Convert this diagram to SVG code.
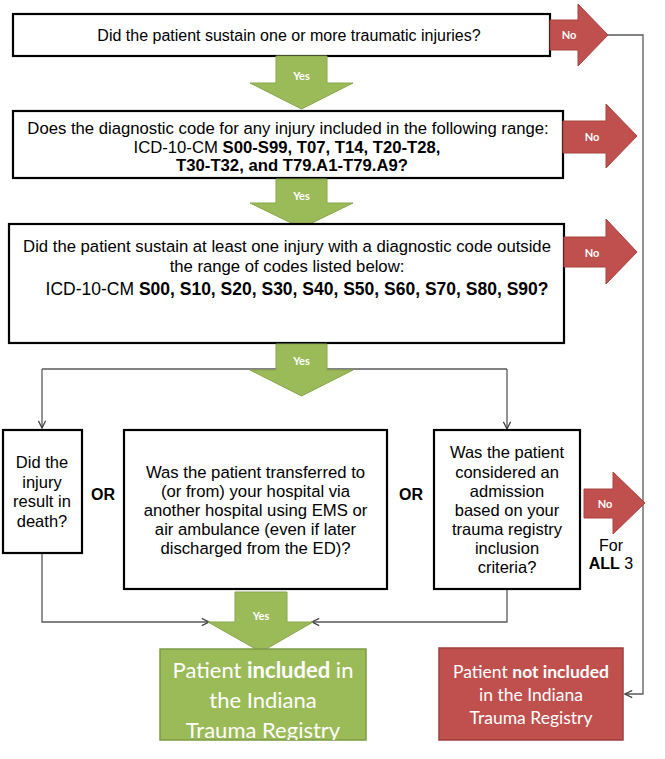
<svg xmlns="http://www.w3.org/2000/svg" width="665" height="759" viewBox="0 0 665 759">
<style>
.box{fill:#fff;stroke:#000;stroke-width:2.2}
.t{font-family:"Liberation Sans",Arial,sans-serif;fill:#000;text-anchor:middle}
.b{font-weight:bold}
.ga{fill:#9BBB59;stroke:#88A64C;stroke-width:1}
.ra{fill:#C0504D;stroke:#A8423F;stroke-width:1}
.lbl{font-family:Lato,"Open Sans",sans-serif;fill:#fff;font-size:11px;text-anchor:middle;font-weight:bold}
.con{fill:none;stroke:#595959;stroke-width:1.3}
.res{font-family:Lato,"Open Sans",sans-serif;fill:#fff;text-anchor:middle}
</style>
<defs>
<marker id="ah" viewBox="0 0 10 10" refX="9" refY="5" markerWidth="9" markerHeight="9" markerUnits="userSpaceOnUse" orient="auto">
<path d="M1,1 L9,5 L1,9" fill="none" stroke="#404040" stroke-width="1.4"/>
</marker>
<clipPath id="gclip"><rect x="160" y="649" width="206" height="91"/></clipPath>
</defs>

<g id="connectors">
<path class="con" d="M608,35 H643 V694 H625" marker-end="url(#ah)"/>
<path class="con" d="M42,369 H507"/>
<path class="con" d="M42,369 V428" marker-end="url(#ah)"/>
<path class="con" d="M507,369 V429" marker-end="url(#ah)"/>
<path class="con" d="M42,553 V622 H209" marker-end="url(#ah)"/>
<path class="con" d="M507,589 V622 H312" marker-end="url(#ah)"/>
</g>

<g id="q1">
<rect class="box" x="13" y="14" width="537" height="42"/>
<text class="t" x="289" y="41" font-size="16">Did the patient sustain one or more traumatic injuries?</text>
</g>

<g id="no1">
<polygon class="ra" points="550,20 578,20 578,4 608,35 578,66 578,50 550,50"/>
<text class="lbl" x="569" y="39">No</text>
</g>

<g id="yes1">
<polygon class="ga" points="276,56 327,56 327,83 353,83 301.5,109 250,83 276,83"/>
<text class="lbl" x="301.5" y="80">Yes</text>
</g>

<g id="q2">
<rect class="box" x="13" y="111" width="550" height="67"/>
<text class="t" x="288" y="134" font-size="16.7">Does the diagnostic code for any injury included in the following range:</text>
<text class="t" x="287" y="153" font-size="16.7">ICD-10-CM <tspan class="b">S00-S99, T07, T14, T20-T28,</tspan></text>
<text class="t b" x="292" y="171" font-size="16.7">T30-T32, and T79.A1-T79.A9?</text>
</g>

<g id="no2">
<polygon class="ra" points="563,121 606,121 606,104 637,136 606,168 606,153 563,153"/>
<text class="lbl" x="592" y="141">No</text>
</g>

<g id="yes2">
<polygon class="ga" points="276,179 327,179 327,203 353,203 301.5,228 250,203 276,203"/>
<text class="lbl" x="301.5" y="200">Yes</text>
</g>

<g id="q3">
<rect class="box" x="9" y="224" width="555" height="119"/>
<text class="t" x="287" y="252" font-size="16.7">Did the patient sustain at least one injury with a diagnostic code outside</text>
<text class="t" x="287" y="272" font-size="16.7">the range of codes listed below:</text>
<text class="t" x="297" y="295" font-size="17.5">ICD-10-CM <tspan class="b">S00, S10, S20, S30, S40, S50, S60, S70, S80, S90?</tspan></text>
</g>

<g id="no3">
<polygon class="ra" points="564,237 606,237 606,219 637,252 606,284 606,267 564,267"/>
<text class="lbl" x="592" y="257">No</text>
</g>

<g id="yes3">
<polygon class="ga" points="276,344 327,344 327,370 353,370 301.5,396 250,370 276,370"/>
<text class="lbl" x="301.5" y="365">Yes</text>
</g>

<g id="death">
<rect class="box" x="3" y="430" width="79" height="123"/>
<text class="t" font-size="16.5"><tspan x="42" y="468">Did the</tspan><tspan x="42" y="488">injury</tspan><tspan x="42" y="507">result in</tspan><tspan x="42" y="527">death?</tspan></text>
</g>

<text class="t b" x="103" y="500" font-size="16">OR</text>

<g id="transfer">
<rect class="box" x="124" y="430" width="263" height="159"/>
<text class="t" font-size="16.7"><tspan x="255.5" y="478">Was the patient transferred to</tspan><tspan x="255.5" y="497">(or from) your hospital via</tspan><tspan x="255.5" y="516">another hospital using EMS or</tspan><tspan x="255.5" y="535">air ambulance (even if later</tspan><tspan x="255.5" y="554">discharged from the ED)?</tspan></text>
</g>

<text class="t b" x="411" y="500" font-size="16">OR</text>

<g id="admission">
<rect class="box" x="434" y="430" width="146" height="159"/>
<text class="t" font-size="16.5"><tspan x="507" y="458">Was the patient</tspan><tspan x="507" y="478">considered an</tspan><tspan x="507" y="497">admission</tspan><tspan x="507" y="516">based on your</tspan><tspan x="507" y="535">trauma registry</tspan><tspan x="507" y="554">inclusion</tspan><tspan x="507" y="573">criteria?</tspan></text>
</g>

<g id="no4">
<polygon class="ra" points="584,489 613,489 613,472 645,503 613,534 613,518 584,518"/>
<text class="lbl" x="605" y="508">No</text>
<text class="t" x="611" y="551" font-size="16">For</text>
<text class="t" x="611" y="569" font-size="16"><tspan class="b">ALL</tspan> 3</text>
</g>

<g id="yes4">
<polygon class="ga" points="235,592 287,592 287,622 313,622 261,652 208,622 235,622"/>
<text class="lbl" x="261" y="620">Yes</text>
</g>

<g id="included">
<rect x="160" y="649" width="206" height="91" fill="#9BBB59" stroke="#7E9B45" stroke-width="1.5"/>
<g clip-path="url(#gclip)">
<text class="res" font-size="22"><tspan x="263" y="678">Patient <tspan font-weight="bold">included</tspan> in</tspan><tspan x="263" y="708">the Indiana</tspan><tspan x="263" y="738">Trauma Registry</tspan></text>
</g>
</g>

<g id="notincluded">
<rect x="439" y="648" width="184" height="92" fill="#C0504D" stroke="#9E3E3B" stroke-width="1.5"/>
<text class="res" font-size="17.5"><tspan x="531" y="678">Patient <tspan font-weight="bold">not included</tspan></tspan><tspan x="531" y="701">in the Indiana</tspan><tspan x="531" y="724">Trauma Registry</tspan></text>
</g>
</svg>
